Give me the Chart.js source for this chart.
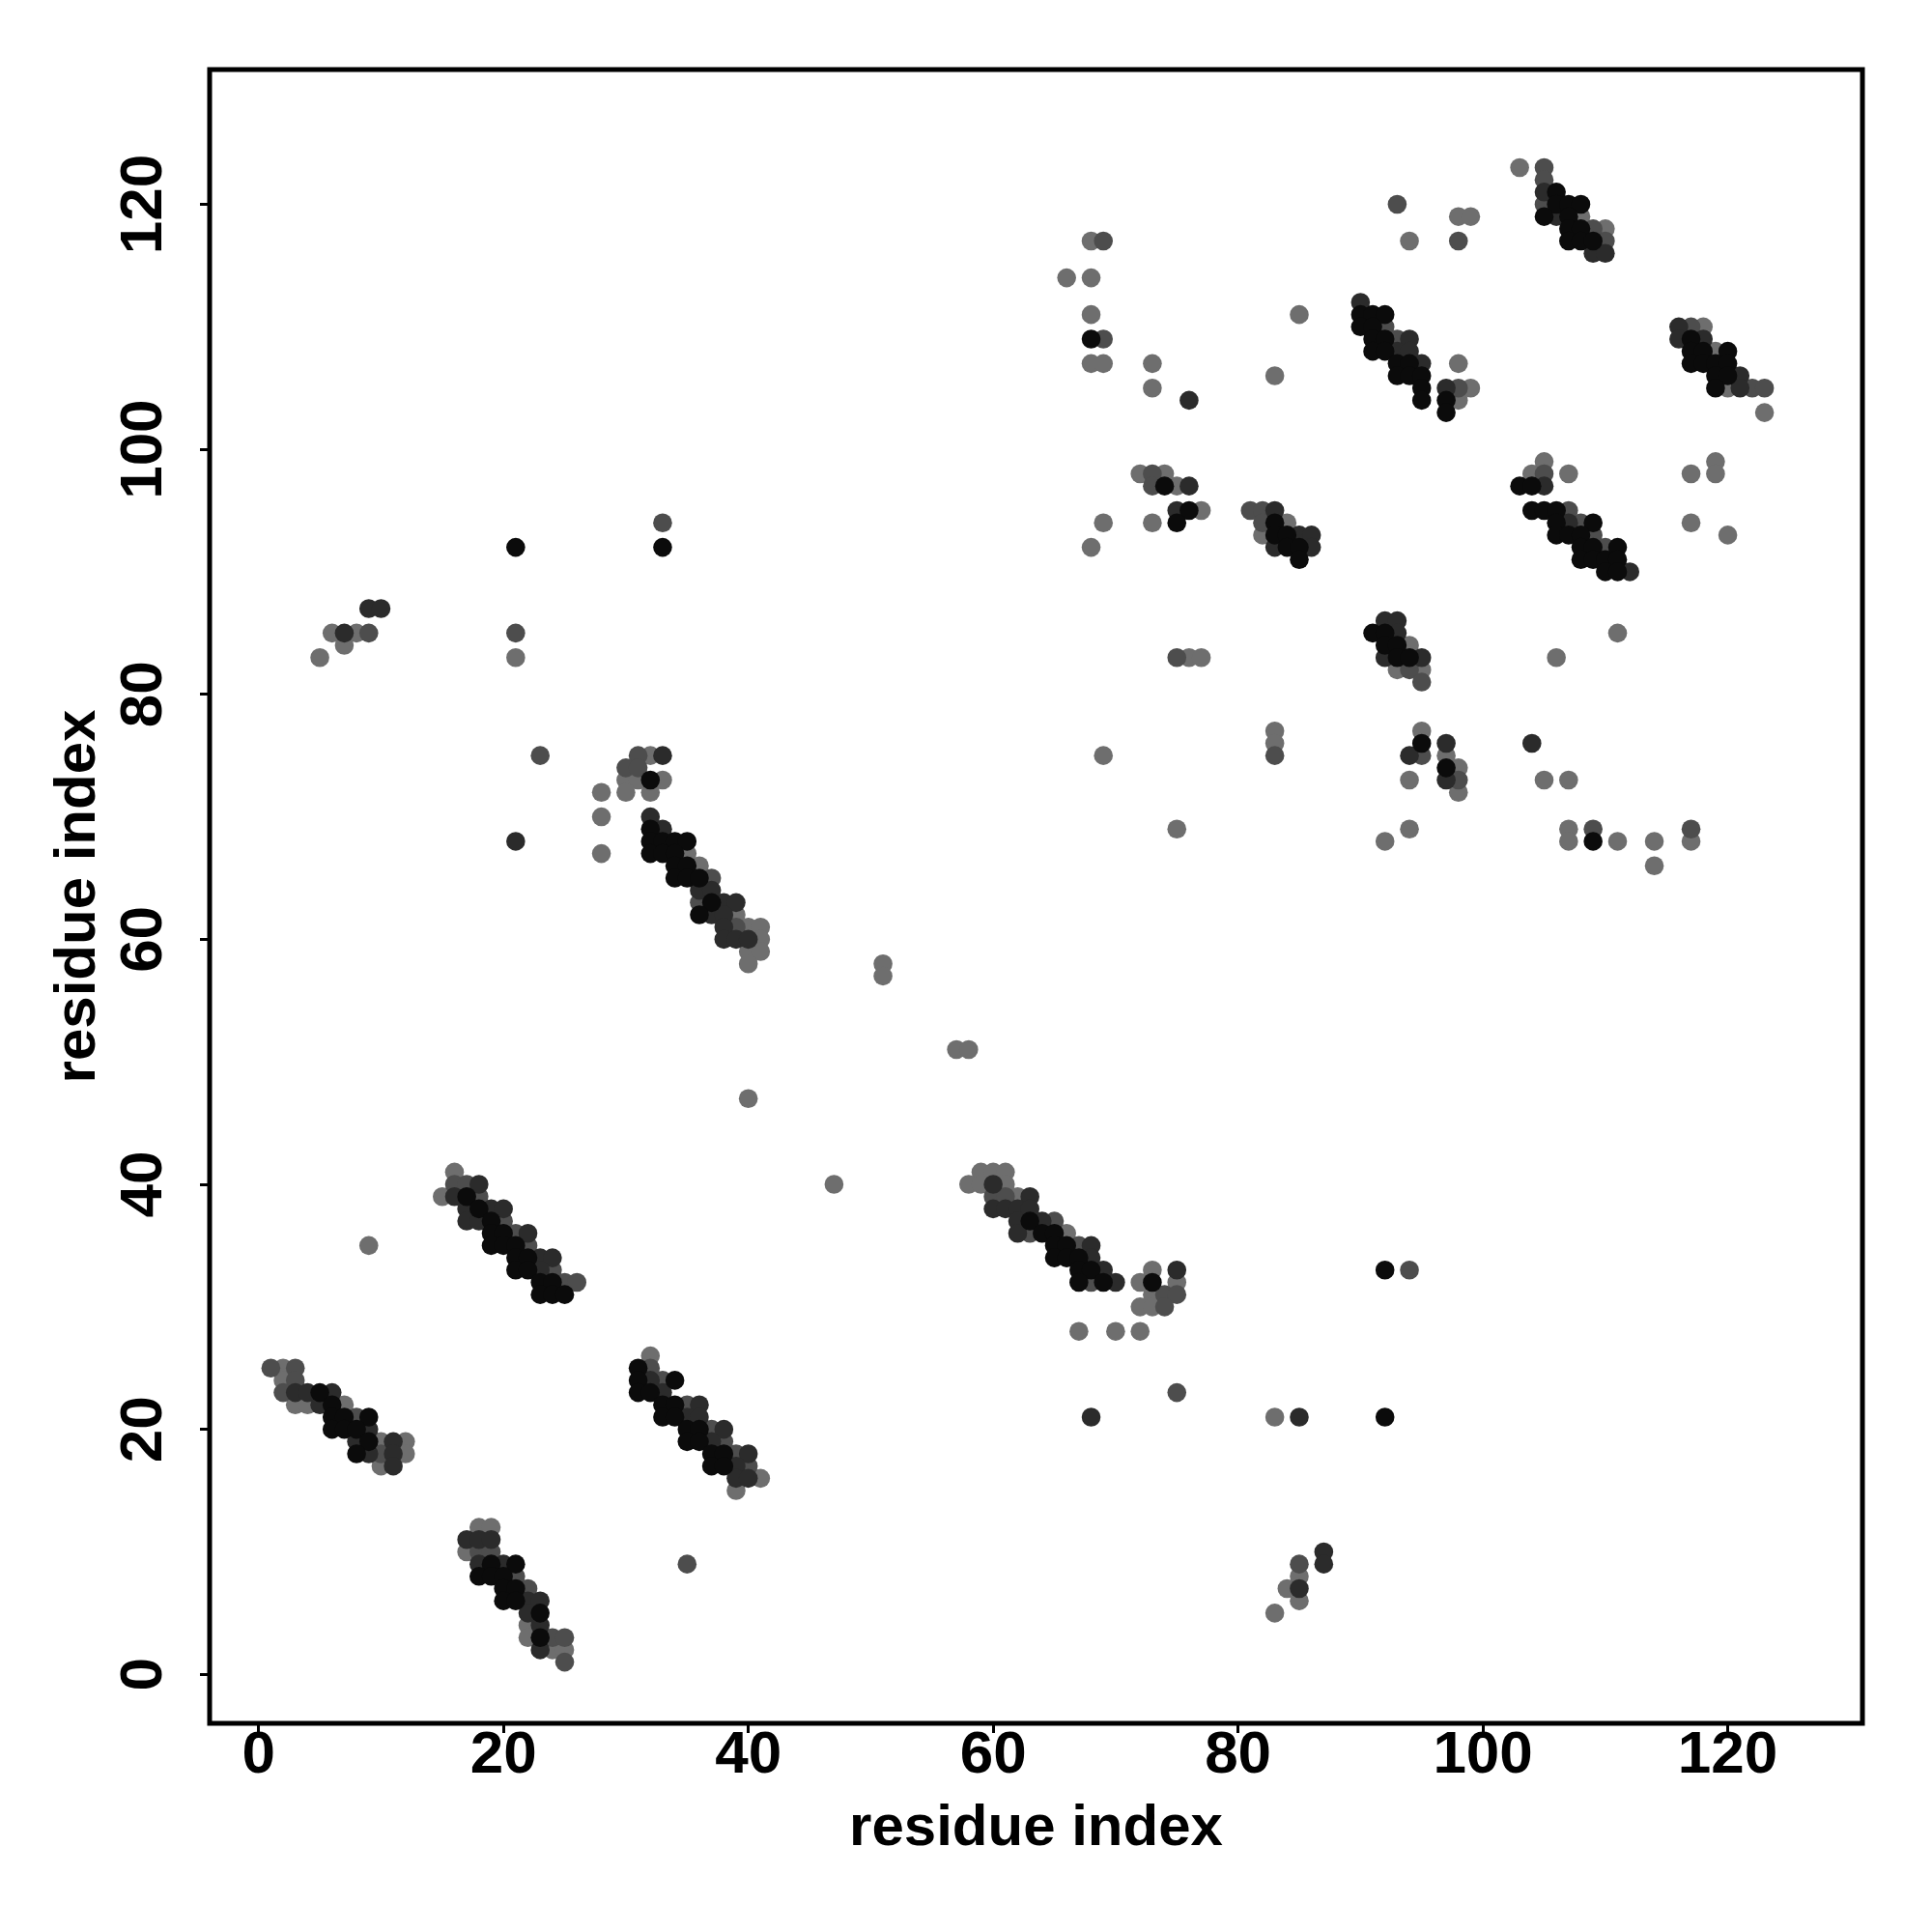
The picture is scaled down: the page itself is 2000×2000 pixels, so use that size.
<!DOCTYPE html>
<html>
<head>
<meta charset="utf-8">
<script src="https://cdn.jsdelivr.net/npm/chart.js@4.4.0/dist/chart.umd.min.js"></script>
<style>
    html, body { margin: 0; padding: 0; background: #ffffff; }
    canvas { display: block; }
</style>
</head>
<body>
<canvas id="contactMap" width="2000" height="2000"></canvas>
<script>
    // residue pairs [i, j] in contact, grouped by the grey level of the dot
    var blackPairs = [
        [5,23],[6,22],[6,21],[7,21],[9,21],[6,20],[7,20],[8,20],[9,19],[8,18],
        [17,39],[18,38],[19,37],[19,36],[20,36],[19,35],[20,35],[21,35],[21,34],[22,34],[21,33],[22,33],[23,32],[24,32],[23,31],[24,31],[25,31],
        [31,25],[31,24],[34,24],[31,23],[32,23],[33,22],[34,22],[33,21],[34,21],[35,20],[36,20],[35,19],[36,19],[37,18],[38,18],[37,17],[38,17],
        [19,9],[21,9],[18,8],[19,8],[20,8],[20,7],[21,7],[20,6],[21,6],[23,5],[23,3],
        [63,37],[64,36],[65,36],[65,35],[66,35],[65,34],[66,34],[67,34],[67,33],[68,33],[67,32],[69,32],[73,32],
        [32,73],[32,69],[32,68],[33,68],[34,68],[35,68],[32,67],[33,67],[34,67],[34,66],[35,66],[34,65],[35,65],[36,65],[37,63],[36,62],
        [91,85],[92,85],[92,84],[93,84],[93,83],[94,83],
        [74,97],[76,95],[75,94],
        [83,94],[83,93],[84,93],[84,92],[85,92],[85,91],
        [106,121],[106,120],[107,120],[108,120],[105,119],[107,119],[107,118],[108,118],[107,117],[108,117],[109,117],
        [90,111],[91,111],[92,111],[90,110],[91,110],[91,109],[92,109],[91,108],[92,108],[93,107],[94,107],[93,106],[94,106],[95,106],[95,105],[95,104],[97,104],[97,103],
        [103,97],[104,97],[104,95],[105,95],[106,95],[106,94],[109,94],[106,93],[107,93],[108,93],[108,92],[109,92],[111,92],[108,91],[109,91],[110,91],[111,91],[110,90],[111,90],
        [117,109],[117,108],[118,108],[120,108],[117,107],[118,107],[119,107],[120,107],[119,106],[120,106],[119,105],
        [21,92],[33,92],[68,109],[109,68],[92,33],[92,21],[95,76],[97,74]
    ];
    var darkPairs = [
        [3,23],[4,23],[6,23],[5,22],[9,20],[8,19],[11,19],[9,18],[11,18],[11,17],
        [18,40],[16,39],[17,38],[19,38],[20,38],[17,37],[18,37],[22,36],[23,34],[24,34],[23,33],
        [32,24],[33,23],[36,22],[35,21],[36,21],[38,20],[37,19],[40,18],[39,17],[39,16],[40,16],
        [17,11],[18,11],[19,11],[18,9],[20,9],[22,6],[23,6],[22,5],[23,4],[23,2],
        [60,40],[63,39],[60,38],[61,38],[62,38],[63,38],[62,37],[64,37],[62,36],[68,35],[68,34],[69,33],[70,32],[75,33],
        [33,75],[32,70],[33,69],[36,64],[37,64],[38,63],[39,63],[37,62],[38,62],[38,61],[38,60],[39,60],[40,60],
        [92,86],[93,86],[93,85],[92,83],[95,83],
        [76,97],[75,95],
        [83,95],[85,93],[86,93],[83,92],[86,92],
        [105,121],[106,119],[109,116],[110,116],
        [90,112],[94,109],[93,108],[94,108],[95,107],[97,105],
        [105,97],[107,94],[112,90],
        [116,110],[116,109],[118,109],[121,106],[121,105],
        [21,68],[7,85],[9,87],[10,87],[76,104],[104,76],[85,21],[68,21],[87,10],[87,9],[85,7],[94,75],[97,76],[97,73]
    ];
    var midPairs = [
        [1,25],[3,25],[3,24],[2,23],[8,21],[10,18],
        [16,40],[17,40],[18,39],[20,37],[21,36],[22,35],[24,33],[25,32],[26,32],
        [32,25],[33,24],[35,22],[37,20],[38,19],[39,18],[40,17],
        [18,10],[19,10],[21,8],[22,7],[24,3],[25,3],[25,1],
        [60,39],[61,39],[65,37],[63,36],[67,35],[68,32],[74,31],[75,31],[74,30],
        [31,75],[30,74],[31,74],[37,65],[36,63],[39,61],
        [94,82],[95,81],
        [73,98],[73,97],
        [81,95],[82,95],[82,94],
        [105,123],[105,122],[105,120],[109,118],[110,117],
        [92,110],[93,109],[98,105],
        [105,98],[107,95],[108,94],[109,93],[110,92],
        [117,110],[122,105],[123,105],
        [23,75],[21,85],[33,94],[9,85],[69,117],[69,109],[75,83],[83,75],[109,69],[117,69],[94,33],[75,23],[85,9],[93,120],[98,117],[35,9],[95,75],[98,73]
    ];
    var lightPairs = [
        [2,25],[2,24],[3,22],[4,22],[7,22],[10,19],[12,19],[12,18],[10,17],
        [16,41],[15,39],
        [32,26],[41,16],[39,15],
        [18,12],[19,12],[17,10],[22,4],[22,3],[24,2],[25,2],
        [59,41],[60,41],[61,41],[58,40],[59,40],[61,40],[62,39],[66,36],[73,33],[72,32],[75,32],[73,31],[72,30],[73,30],
        [32,75],[30,73],[31,73],[33,73],[30,72],[32,72],[35,67],[36,66],[39,62],[40,61],[41,61],[41,60],[40,59],[41,59],[40,58],
        [94,84],[93,82],[95,82],
        [72,98],[74,98],[75,97],[77,95],
        [84,94],[82,93],
        [103,123],[108,119],[110,118],
        [99,105],[98,104],[98,107],
        [105,99],[104,98],[107,98],
        [118,110],[119,108],[120,105],[123,103],
        [9,35],[40,47],[47,40],[51,58],[51,57],[57,51],[58,51],[21,83],[5,83],[6,85],[8,85],[7,84],
        [28,72],[28,70],[28,67],[66,114],[68,114],[68,117],[68,111],[68,107],[69,107],[73,107],[73,105],
        [85,111],[83,106],[68,92],[69,94],[73,94],[76,83],[77,83],[69,75],[75,69],[83,77],[83,76],
        [92,68],[94,69],[94,73],[105,73],[107,73],[107,69],[107,68],[111,68],[114,68],[114,66],[117,68],
        [106,83],[111,85],[117,98],[117,94],[119,99],[119,98],[120,93],[83,21],[67,28],[70,28],[72,28],
        [85,8],[84,7],[85,6],[83,5],[94,117],[98,119],[99,119],[95,77],[97,75],[98,74],[98,72]
    ];

    var shadeColors = ['#0b0b0b', '#2b2b2b', '#4d4d4d', '#6e6e6e'];
    var tickValues = [0, 20, 40, 60, 80, 100, 120];
    var axisMin = -4;
    var axisMax = 131;
    var axisTitle = 'residue index';

    function toPoints(pairs) {
        return pairs.map(function(p) { return { x: p[0], y: p[1] }; });
    }

    function pointSet(pairs, color) {
        return {
            data: toPoints(pairs),
            backgroundColor: color,
            borderWidth: 0,
            pointRadius: 9.8,
            pointHoverRadius: 9.8
        };
    }

    var labelFont = { family: 'Liberation Sans', size: 62, weight: 'bold', lineHeight: 1 };
    var titleFont = { family: 'Liberation Sans', size: 60, weight: 'bold', lineHeight: 1 };

    function fixedTicks(scale) {
        scale.ticks = tickValues.map(function(v) { return { value: v }; });
    }

    // R style box round the plotting region
    var framePlugin = {
        id: 'frame',
        afterDatasetsDraw: function(chart) {
            var a = chart.chartArea;
            var ctx = chart.ctx;
            ctx.save();
            ctx.strokeStyle = '#000000';
            ctx.lineWidth = 5;
            ctx.strokeRect(a.left, a.top, a.right - a.left, a.bottom - a.top);
            ctx.restore();
        }
    };

    var ctx = document.getElementById('contactMap').getContext('2d');
    var contactChart = new Chart(ctx, {
        type: 'scatter',
        data: {
            datasets: [
                pointSet(blackPairs, shadeColors[0]),
                pointSet(darkPairs, shadeColors[1]),
                pointSet(midPairs, shadeColors[2]),
                pointSet(lightPairs, shadeColors[3])
            ]
        },
        options: {
            responsive: false,
            animation: false,
            layout: { padding: { top: 72, right: 72, bottom: 0, left: 0 } },
            plugins: {
                legend: { display: false },
                tooltip: { enabled: false }
            },
            scales: {
                x: {
                    type: 'linear',
                    min: axisMin,
                    max: axisMax,
                    afterBuildTicks: fixedTicks,
                    afterFit: function(scale) { scale.height = 216; },
                    border: { display: false },
                    grid: { drawOnChartArea: false, drawTicks: true, tickLength: 10, tickWidth: 3, tickColor: '#000000' },
                    ticks: { color: '#000000', font: labelFont, padding: -7, autoSkip: false, minRotation: 0, maxRotation: 0 },
                    title: { display: true, text: axisTitle, color: '#000000', font: titleFont, padding: { top: 0, bottom: 77 } }
                },
                y: {
                    type: 'linear',
                    min: axisMin,
                    max: axisMax,
                    afterBuildTicks: fixedTicks,
                    afterFit: function(scale) { scale.width = 217; },
                    border: { display: false },
                    grid: { drawOnChartArea: false, drawTicks: true, tickLength: 10, tickWidth: 3, tickColor: '#000000' },
                    ticks: { color: '#000000', font: labelFont, padding: 5, autoSkip: false, minRotation: 90, maxRotation: 90, crossAlign: 'center' },
                    title: { display: true, text: axisTitle, color: '#000000', font: titleFont, padding: { top: 51, bottom: 0 } }
                }
            }
        },
        plugins: [framePlugin]
    });
</script>
</body>
</html>
